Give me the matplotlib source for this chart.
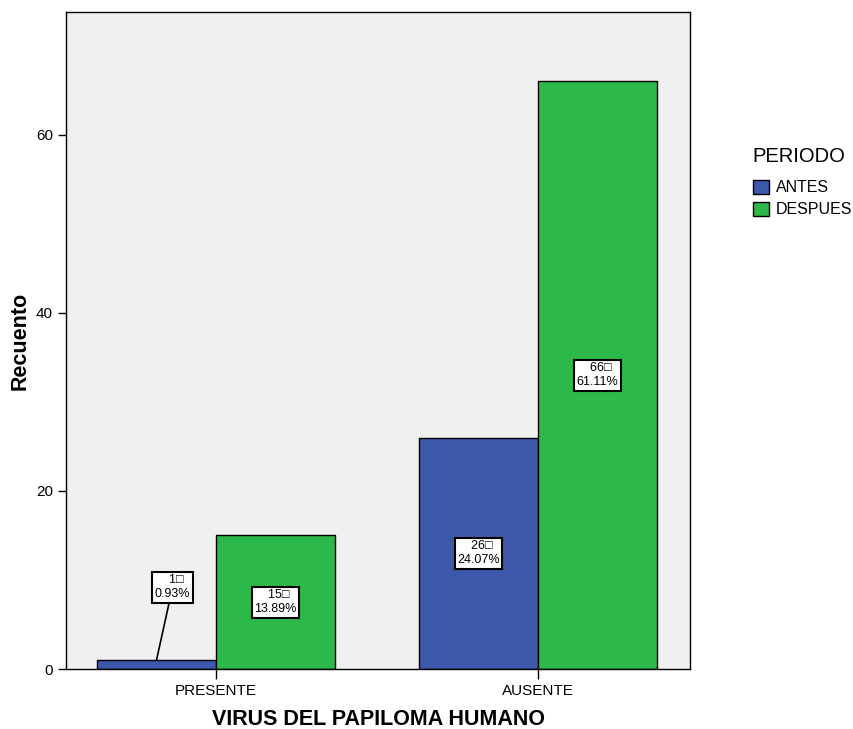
import numpy as np
import matplotlib
matplotlib.use("Agg")
import matplotlib.pyplot as plt
from matplotlib.patches import Patch

plt.rcParams.update({'font.family': ['Liberation Sans', 'DejaVu Sans']})

categories = ["PRESENTE", "AUSENTE"]
periods = ["ANTES", "DESPUES"]
antes = [1, 26]
despues = [15, 66]
pct_antes = [0.93, 24.07]
pct_despues = [13.89, 61.11]

blue = "#3E58AC"
green = "#2DB84A"

fig = plt.figure(figsize=(8.54, 7.29), dpi=100)
ax = fig.add_axes([0.0773, 0.0823, 0.7307, 0.9012])
ax.set_facecolor("#F0F0F0")

x = np.arange(len(categories))
w = 0.37
ax.bar(x - w/2, antes, width=w, color=blue, edgecolor="black", linewidth=1)
ax.bar(x + w/2, despues, width=w, color=green, edgecolor="black", linewidth=1)

box = dict(boxstyle="square,pad=0.2", fc="white", ec="black", lw=1.5)

def label(v, p):
    return f"  {v}\u25a1\n{p:.2f}%"

# small first bar gets its label pulled up with a leader line
for i in range(len(categories)):
    for xs, v, p in ((x[i] - w/2, antes[i], pct_antes[i]), (x[i] + w/2, despues[i], pct_despues[i])):
        if v < 3:
            ax.annotate(label(v, p), xy=(xs, v), xytext=(xs + 0.05, v + 8.2),
                        ha="center", va="center", fontsize=9, multialignment="center",
                        bbox=box, arrowprops=dict(arrowstyle="-", color="black", lw=1.2,
                                                  shrinkA=0, shrinkB=0))
        else:
            ax.text(xs, v / 2, label(v, p), ha="center", va="center", fontsize=9,
                    multialignment="center", bbox=box)

ax.set_xlim(-0.466, 1.472)
ax.set_ylim(0, 73.8)
ax.set_xticks(x)
ax.set_xticklabels(categories, fontsize=11)
ax.set_yticks([0, 20, 40, 60])
ax.tick_params(axis="y", labelsize=11, length=6, width=1)
ax.tick_params(axis="x", length=7, width=1)
for s in ax.spines.values():
    s.set_linewidth(1)

ax.set_xlabel("VIRUS DEL PAPILOMA HUMANO", fontsize=15.5, fontweight="bold", labelpad=8)
ax.set_ylabel("Recuento", fontsize=15.5, fontweight="bold", labelpad=4)

handles = [Patch(facecolor=blue, edgecolor="black"), Patch(facecolor=green, edgecolor="black")]
leg = fig.legend(handles, periods, title="PERIODO", loc="upper left",
                 bbox_to_anchor=(0.872, 0.809), frameon=False, fontsize=11.5,
                 title_fontsize=14.5, handlelength=1.0, handleheight=1.0,
                 handletextpad=0.45, labelspacing=0.4, alignment="left", borderpad=0)
leg._legend_box.sep += 5

fig.savefig("out.png", dpi=100)
